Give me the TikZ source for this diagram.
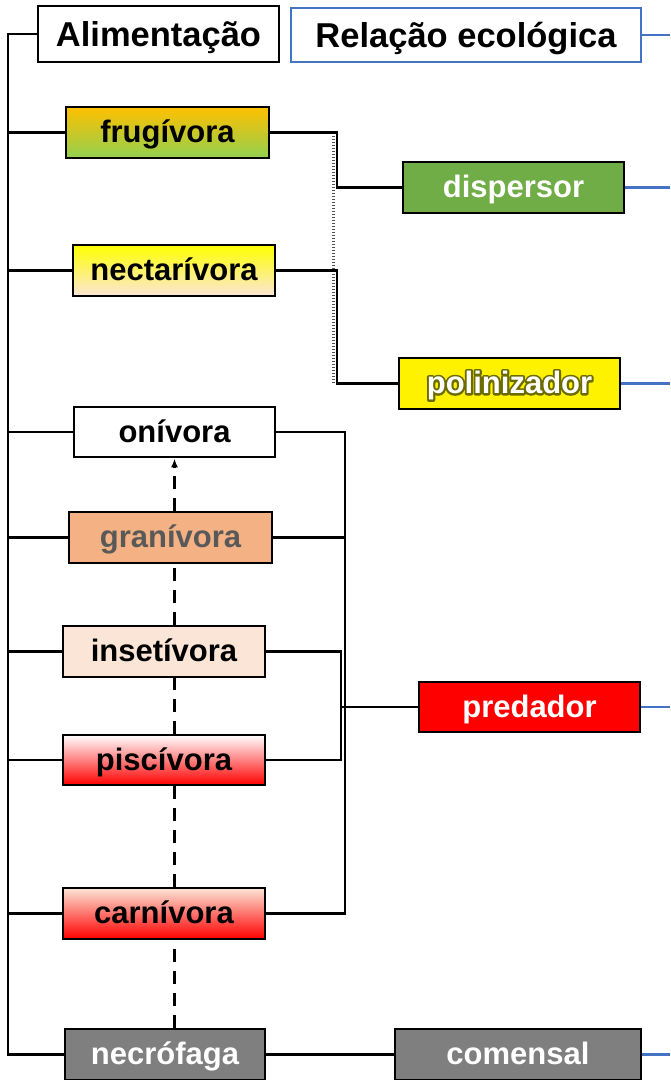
\documentclass[tikz,border=0pt]{standalone}
\usepackage{fontspec}
\setmainfont{Liberation Sans}
\usetikzlibrary{arrows.meta}

\definecolor{hdrblue}{HTML}{4472C4}
\definecolor{leafgreen}{HTML}{70AD47}
\definecolor{limegreen}{HTML}{92D050}
\definecolor{amber}{HTML}{FFC000}
\definecolor{peach}{HTML}{FBE5D6}
\definecolor{salmon}{HTML}{F4B183}
\definecolor{midgray}{HTML}{7F7F7F}
\definecolor{darktext}{HTML}{595959}
\definecolor{tan}{HTML}{D9A27E}
\definecolor{dotgray}{HTML}{505050}

% white lettering over a stroked dark olive outline
\newcommand\halotext[1]{%
  \makebox[0pt][l]{\special{pdf:literal direct 1 Tr 4 w 1 j 0.42 0.42 0 RG}#1\special{pdf:literal direct 0 Tr}}%
  \textcolor{white}{#1}}

\tikzset{
  header/.style={draw=black, line width=2.8pt, fill=white, inner sep=0pt,
    minimum height=56pt, text height=25pt, text depth=1pt,
    font=\fontsize{34.5}{40}\selectfont\bfseries},
  box/.style={draw=black, line width=2.8pt, inner sep=0pt,
    minimum height=51pt, text height=22pt, text depth=2pt,
    font=\fontsize{31}{36}\selectfont\bfseries},
  link/.style={line width=2.4pt, black},
  bluelink/.style={line width=2.4pt, hdrblue},
  dashlink/.style={line width=2.4pt, dash pattern=on 13pt off 9pt},
  chain/.style={dashlink, -{Latex[length=9pt,width=7pt]}},
}

\begin{document}
\begin{tikzpicture}[x=1pt, y=-1pt]
\useasboundingbox (0,0) rectangle (670,1080);

% bus positions
\coordinate (sp) at (8,0);
\coordinate (busA) at (337,0);
\coordinate (busDot) at (333.5,0);
\coordinate (busB) at (345,0);
\coordinate (busC) at (341,0);
\coordinate (edge) at (670,0);

% headers
\node[header, minimum width=241pt] (ali) at (158.5,34) {Alimentação};
\node[header, draw=hdrblue, line width=2.4pt, minimum width=350pt, minimum height=54pt] (rel) at (466,35) {Relação ecológica};

% feeding habits
\node[box, minimum width=203pt, top color=amber, middle color=yellow, bottom color=limegreen] (fru) at (167.5,132.5) {frugívora};
\node[box, minimum width=202pt, top color=yellow, middle color=yellow!45!peach, bottom color=peach] (nec) at (174,270.5) {nectarívora};
\node[box, minimum width=201pt, minimum height=50pt, fill=white] (oni) at (174.5,432) {onívora};
\node[box, minimum width=203pt, fill=salmon, text=darktext] (gran) at (170.5,537.5) {granívora};
\node[box, minimum width=202pt, fill=peach] (ins) at (164,651.5) {insetívora};
\node[box, minimum width=202pt, minimum height=50pt, top color=white, middle color=tan, bottom color=red] (pisc) at (164,760) {piscívora};
\node[box, minimum width=202pt, top color=peach, middle color=red!85!peach, bottom color=red] (carn) at (164,913.5) {carnívora};
\node[box, minimum width=200pt, fill=midgray, text=white] (necro) at (165,1054.5) {necrófaga};

% ecological relations
\node[box, minimum width=221pt, fill=leafgreen, text=white] (disp) at (513.5,187.5) {dispersor};
\node[box, minimum width=221pt, fill=yellow] (poli) at (509.5,383.5) {\halotext{polinizador}};
\node[box, minimum width=221pt, minimum height=50pt, fill=red, text=white] (pred) at (529.5,707) {predador};
\node[box, minimum width=246pt, fill=midgray, text=white] (com) at (518,1054.5) {comensal};

% left spine
\draw[link] (ali.west) -- (ali.west -| sp) -- (necro.west -| sp) -- (necro.west);
\foreach \n in {fru,nec,oni,gran,ins,pisc,carn}
  \draw[link] (sp |- \n.west) -- (\n.west);

% frugivores and nectarivores
\draw[line width=2.4pt, dotgray, dash pattern=on 1.6pt off 1.4pt] (busDot |- fru.east) -- (busDot |- poli.west);
\draw[link] (fru.east) -- (fru.east -| busA) |- (disp.west);
\draw[link] (nec.east) -- (nec.east -| busA) |- (poli.west);

% predators
\draw[link] (oni.east) -- (oni.east -| busB) -- (carn.east -| busB) -- (carn.east);
\draw[link] (gran.east) -- (gran.east -| busB);
\draw[link] (ins.east) -- (ins.east -| busC) -- (pisc.east -| busC) -- (pisc.east);
\draw[link] (busC |- pred.west) -- (pred.west);

% scavengers
\draw[link] (necro.east) -- (com.west);

% right-hand blue leads
\draw[bluelink] (rel.east) -- (edge |- rel.east);
\draw[bluelink] (disp.east) -- (edge |- disp.east);
\draw[bluelink] (poli.east) -- (edge |- poli.east);
\draw[bluelink] (pred.east) -- (edge |- pred.east);
\draw[bluelink] (com.east) -- (edge |- com.east);

% dashed chain from necrófaga up to onívora, between the boxes
\draw[dashlink] (oni.south |- necro.north) -- (oni.south |- carn.south);
\draw[dashlink] (oni.south |- carn.north) -- (oni.south |- pisc.south);
\draw[dashlink] (oni.south |- pisc.north) -- (oni.south |- ins.south);
\draw[dashlink] (oni.south |- ins.north) -- (oni.south |- gran.south);
\draw[chain] (oni.south |- gran.north) -- (oni.south);
\end{tikzpicture}
\end{document}
